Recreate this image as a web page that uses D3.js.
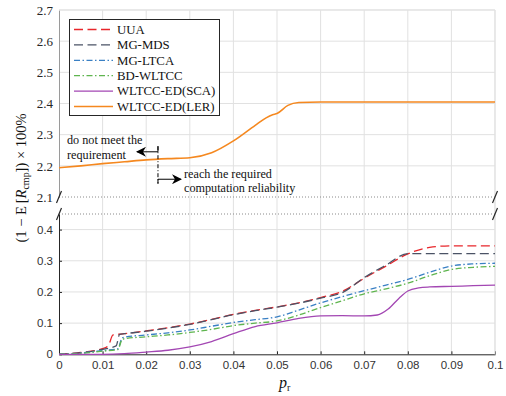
<!DOCTYPE html>
<html><head><meta charset="utf-8">
<script src="https://cdn.jsdelivr.net/npm/d3@7/dist/d3.min.js"></script>
<style>
body{margin:0;background:#fff;}
svg{display:block;}
</style></head>
<body><svg id="c" width="506" height="396"></svg>
<script>
// ---------- data ----------
const xTicks = [0,0.01,0.02,0.03,0.04,0.05,0.06,0.07,0.08,0.09,0.1];
const xTickLabels = ["0","0.01","0.02","0.03","0.04","0.05","0.06","0.07","0.08","0.09","0.1"];
const yLowTicks = [0,0.1,0.2,0.3,0.4];
const yLowLabels = ["0","0.1","0.2","0.3","0.4"];
const yUpTicks = [2.1,2.2,2.3,2.4,2.5,2.6,2.7];
const yUpLabels = ["2.1","2.2","2.3","2.4","2.5","2.6","2.7"];
const seriesNames = ["UUA","MG-MDS","MG-LTCA","BD-WLTCC","WLTCC-ED(SCA)","WLTCC-ED(LER)"];

const uuaX = [0,0.005,0.01,0.0113,0.0124,0.015,0.02,0.025,0.03,0.035,0.04,0.045,0.05,0.055,0.06,0.065,0.07,0.075,0.08,0.085,0.09,0.095,0.1];
const uuaY = [0,0.006,0.018,0.028,0.062,0.066,0.075,0.085,0.097,0.112,0.128,0.141,0.152,0.165,0.182,0.202,0.244,0.283,0.322,0.343,0.348,0.348,0.348];

const mdsX = [0,0.005,0.01,0.0131,0.0139,0.015,0.02,0.025,0.03,0.035,0.04,0.045,0.05,0.055,0.06,0.065,0.07,0.075,0.08,0.085,0.09,0.095,0.1];
const mdsY = [0,0.005,0.016,0.027,0.064,0.066,0.074,0.084,0.096,0.111,0.127,0.14,0.151,0.164,0.18,0.198,0.246,0.286,0.323,0.323,0.323,0.323,0.323];

const ltcaX = [0,0.005,0.01,0.0135,0.0145,0.015,0.02,0.025,0.03,0.035,0.04,0.045,0.05,0.055,0.06,0.065,0.07,0.075,0.08,0.085,0.09,0.095,0.1];
const ltcaY = [0,0.004,0.012,0.018,0.053,0.055,0.062,0.069,0.078,0.09,0.102,0.111,0.12,0.142,0.165,0.185,0.204,0.222,0.24,0.263,0.283,0.29,0.292];

const bdX = [0,0.005,0.01,0.0135,0.0145,0.015,0.02,0.025,0.03,0.035,0.04,0.045,0.05,0.055,0.06,0.065,0.07,0.075,0.08,0.085,0.09,0.095,0.1];
const bdY = [0,0.003,0.01,0.015,0.048,0.05,0.056,0.062,0.07,0.08,0.092,0.1,0.107,0.126,0.15,0.172,0.194,0.21,0.228,0.252,0.272,0.279,0.282];

const scaX = [0,0.01,0.015,0.02,0.025,0.03,0.035,0.04,0.045,0.05,0.055,0.06,0.065,0.07,0.073,0.0755,0.078,0.08,0.0825,0.085,0.09,0.095,0.1];
const scaY = [0,0,0.002,0.007,0.013,0.024,0.041,0.066,0.089,0.101,0.115,0.123,0.124,0.123,0.126,0.145,0.18,0.203,0.213,0.216,0.218,0.22,0.222];

const lerX = [0,0.005,0.01,0.015,0.02,0.025,0.03,0.035,0.04,0.045,0.0475,0.049,0.05,0.0525,0.055,0.06,0.07,0.08,0.09,0.1];
const lerY = [2.194,2.2,2.207,2.213,2.219,2.223,2.226,2.242,2.28,2.33,2.354,2.364,2.368,2.394,2.403,2.405,2.405,2.405,2.405,2.405];

const annoLeft = ["do not meet the","requirement"];
const annoRight = ["reach the required","computation reliability"];

// ---------- layout ----------
const svg = d3.select("#c");
const x = d3.scaleLinear().domain([0,0.1]).range([59,495]);
const yLow = d3.scaleLinear().domain([0,0.45]).range([354.3,214]);
const yUp = d3.scaleLinear().domain([2.1,2.7]).range([197,10]);
const y = v => v >= 1 ? yUp(v) : yLow(v);

const gridC = "#e1e1e1";
const serif = "'Liberation Serif','Times New Roman',serif";
const sans = "'Liberation Sans',Arial,sans-serif";

// vertical grid
svg.append("g").selectAll("line").data(xTicks.slice(1)).join("line")
  .attr("x1",d=>x(d)).attr("x2",d=>x(d)).attr("y1",yUp(2.7)).attr("y2",yLow(0))
  .attr("stroke",gridC).attr("stroke-width",1);
// horizontal grid
svg.append("g").selectAll("line").data(yUpTicks.slice(1)).join("line")
  .attr("x1",x(0)).attr("x2",x(0.1)).attr("y1",d=>yUp(d)).attr("y2",d=>yUp(d))
  .attr("stroke",gridC).attr("stroke-width",1);
svg.append("g").selectAll("line").data(yLowTicks.slice(1)).join("line")
  .attr("x1",x(0)).attr("x2",x(0.1)).attr("y1",d=>yLow(d)).attr("y2",d=>yLow(d))
  .attr("stroke",gridC).attr("stroke-width",1);

// dotted break lines
[yUp(2.1), yLow(0.45)].forEach(yy=>{
  svg.append("line").attr("x1",x(0)).attr("x2",x(0.1)).attr("y1",yy).attr("y2",yy)
    .attr("stroke","#8a8a8a").attr("stroke-width",1).attr("stroke-dasharray","1,2");
});

// axes
const xAxis = d3.axisBottom(x).tickValues(xTicks).tickFormat((d,i)=>xTickLabels[i]).tickSizeInner(-3).tickSizeOuter(0).tickPadding(7);
const gx = svg.append("g").attr("transform",`translate(0,${yLow(0)})`).call(xAxis);
gx.select(".domain").attr("stroke","#262626");
gx.selectAll(".tick line").attr("stroke","#262626");
gx.selectAll("text").attr("font-family",sans).attr("font-size",11.5).attr("fill","#333");

const yAxisL = d3.axisLeft(yLow).tickValues(yLowTicks).tickFormat((d,i)=>yLowLabels[i]).tickSizeInner(-3).tickSizeOuter(0).tickPadding(6);
const gyl = svg.append("g").attr("transform",`translate(${x(0)},0)`).call(yAxisL);
gyl.select(".domain").attr("stroke","#262626");
gyl.selectAll(".tick line").attr("stroke","#262626");
gyl.selectAll("text").attr("font-family",sans).attr("font-size",11.5).attr("fill","#333");

const yAxisU = d3.axisLeft(yUp).tickValues(yUpTicks).tickFormat((d,i)=>yUpLabels[i]).tickSize(0).tickPadding(6);
const gyu = svg.append("g").attr("transform",`translate(${x(0)},0)`).call(yAxisU);
gyu.select(".domain").attr("stroke","#9a9a9a");
gyu.selectAll("text").attr("font-family",serif).attr("font-size",13).attr("fill","#262626");

// top and right border
svg.append("line").attr("x1",x(0)).attr("x2",x(0.1)).attr("y1",yUp(2.7)).attr("y2",yUp(2.7)).attr("stroke",gridC);
svg.append("line").attr("x1",x(0.1)).attr("x2",x(0.1)).attr("y1",yUp(2.7)).attr("y2",yLow(0)).attr("stroke",gridC);

// break marks
[[x(0),yUp(2.1)],[x(0),yLow(0.45)],[x(0.1),yUp(2.1)],[x(0.1),yLow(0.45)]].forEach(([cx,cy])=>{
  svg.append("line").attr("x1",cx-2.5).attr("y1",cy+6).attr("x2",cx+2.5).attr("y2",cy-6)
    .attr("stroke","#262626").attr("stroke-width",1.2);
});

// ---------- series ----------
const styles = [
  {name:seriesNames[0], xs:uuaX, ys:uuaY, color:"#e8262b", dash:"9,4.5", w:1.3},
  {name:seriesNames[1], xs:mdsX, ys:mdsY, color:"#4b5366", dash:"9,4.5", w:1.3},
  {name:seriesNames[2], xs:ltcaX, ys:ltcaY, color:"#3a80c4", dash:"6,2.5,1.5,2.5", w:1.3},
  {name:seriesNames[3], xs:bdX, ys:bdY, color:"#5fb54f", dash:"6,2.5,1.5,2.5", w:1.3},
  {name:seriesNames[4], xs:scaX, ys:scaY, color:"#a347b3", dash:null, w:1.3},
  {name:seriesNames[5], xs:lerX, ys:lerY, color:"#f5881f", dash:null, w:1.6}
];
const line = d3.line().x(d=>x(d[0])).y(d=>y(d[1])).curve(d3.curveMonotoneX);
styles.forEach(s=>{
  const pts = s.xs.map((v,i)=>[v,s.ys[i]]);
  const p = svg.append("path").datum(pts).attr("d",line).attr("fill","none")
    .attr("stroke",s.color).attr("stroke-width",s.w);
  if(s.dash) p.attr("stroke-dasharray",s.dash);
});

// ---------- legend ----------
const lg = svg.append("g");
lg.append("rect").attr("x",69.5).attr("y",19.5).attr("width",150).attr("height",96)
  .attr("fill","#fff").attr("stroke","#262626").attr("stroke-width",1);
styles.forEach((s,i)=>{
  const yy = 29.5 + i*15.4;
  const l = lg.append("line").attr("x1",74).attr("x2",113).attr("y1",yy).attr("y2",yy)
    .attr("stroke",s.color).attr("stroke-width",s.w);
  if(s.dash) l.attr("stroke-dasharray",s.dash);
  lg.append("text").attr("x",117).attr("y",yy+4.3).text(s.name)
    .attr("font-family",serif).attr("font-size",12.8).attr("fill","#111");
});

// ---------- annotations ----------
const ax = x(0.0227);
const ann = svg.append("g");
const defs = svg.append("defs");
defs.append("marker").attr("id","ah").attr("viewBox","0 0 10 10").attr("refX",9).attr("refY",5)
  .attr("markerWidth",10).attr("markerHeight",10).attr("markerUnits","userSpaceOnUse").attr("orient","auto")
  .append("path").attr("d","M0,0 L10,5 L0,10 L3,5 Z").attr("fill","#000");
ann.append("line").attr("x1",ax).attr("x2",ax).attr("y1",yUp(2.263)).attr("y2",yUp(2.143))
  .attr("stroke","#000").attr("stroke-width",1).attr("stroke-dasharray","4,2,1,2");
ann.append("path").attr("d",`M${ax},${yUp(2.263)} V${yUp(2.245)} H${ax-21}`)
  .attr("fill","none").attr("stroke","#000").attr("stroke-width",1).attr("marker-end","url(#ah)");
ann.append("path").attr("d",`M${ax},${yUp(2.143)} V${yUp(2.157)} H${ax+23}`)
  .attr("fill","none").attr("stroke","#000").attr("stroke-width",1).attr("marker-end","url(#ah)");
annoLeft.forEach((t,i)=>{
  ann.append("text").attr("x",67).attr("y",yUp(2.27)+i*15).text(t)
    .attr("font-family",serif).attr("font-size",12.2).attr("fill","#111");
});
annoRight.forEach((t,i)=>{
  ann.append("text").attr("x",184).attr("y",yUp(2.16)+i*13.5).text(t)
    .attr("font-family",serif).attr("font-size",12.2).attr("fill","#111");
});

// ---------- axis labels ----------
const xl = svg.append("text").attr("x",279).attr("y",388).attr("font-family",serif).attr("fill","#111");
xl.append("tspan").attr("font-style","italic").attr("font-size",16).text("p");
xl.append("tspan").attr("font-size",10).attr("dy",3).text("r");

const yl = svg.append("text").attr("transform",`translate(26,178) rotate(-90)`).attr("text-anchor","middle")
  .attr("font-family",serif).attr("font-size",14.5).attr("fill","#111");
yl.append("tspan").text("(1 − E\u2009[");
yl.append("tspan").attr("font-style","italic").text("R");
yl.append("tspan").attr("font-size",10).attr("dy",3).text("cmp");
yl.append("tspan").attr("dy",-3).text("]) × 100%");
</script></body></html>
